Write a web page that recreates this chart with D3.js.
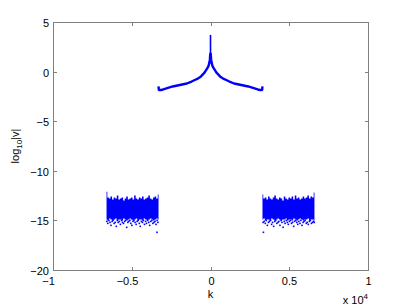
<!DOCTYPE html>
<html>
<head>
<meta charset="utf-8">
<script src="https://cdn.jsdelivr.net/npm/d3@7"></script>
<style>
  body { margin: 0; background: #fff; }
  svg { display: block; }
  text { font-family: "Liberation Sans", Arial, sans-serif; font-size: 11px; fill: #000; }
</style>
</head>
<body>
<div id="chart"></div>
<script>
// central cusp, left half (k, log10|v|); right half is mirrored
var curveK = [-3300, -3280, -3150, -3000, -2700, -2400, -2100, -1800, -1500, -1200, -1000, -800, -650, -500, -380, -280, -200, -130, -80, -40, -15, 0];
var curveV = [-1.5, -1.85, -1.85, -1.8, -1.65, -1.5, -1.4, -1.3, -1.2, -1.0, -0.85, -0.7, -0.55, -0.3, -0.1, 0.15, 0.35, 0.55, 0.85, 1.2, 1.8, 3.7];

// noise bands: one column per 100 in k, top and bottom of the dense part
var bandLeftK = [-6600, -6500, -6400, -6300, -6200, -6100, -6000, -5900, -5800, -5700, -5600, -5500, -5400, -5300, -5200, -5100, -5000, -4900, -4800, -4700, -4600, -4500, -4400, -4300, -4200, -4100, -4000, -3900, -3800, -3700, -3600, -3500, -3400, -3300];
var bandLeftHi = [-12.1, -12.7, -12.8, -12.6, -12.9, -12.7, -12.8, -12.5, -12.9, -12.8, -12.7, -13.0, -12.8, -12.6, -12.9, -12.8, -12.7, -12.9, -12.5, -12.8, -12.9, -12.7, -12.8, -12.6, -12.9, -12.8, -12.7, -12.5, -12.8, -12.9, -12.7, -12.6, -12.8, -12.4];
var bandLeftLo = [-14.9, -15.0, -14.8, -14.9, -15.0, -14.9, -14.8, -15.0, -14.9, -14.9, -15.0, -14.8, -14.9, -15.0, -14.9, -14.8, -14.9, -15.0, -14.9, -14.8, -15.0, -14.9, -14.9, -15.0, -14.8, -14.9, -15.0, -14.9, -14.8, -14.9, -15.0, -14.9, -14.8, -14.9];
var bandRightK = [3300, 3400, 3500, 3600, 3700, 3800, 3900, 4000, 4100, 4200, 4300, 4400, 4500, 4600, 4700, 4800, 4900, 5000, 5100, 5200, 5300, 5400, 5500, 5600, 5700, 5800, 5900, 6000, 6100, 6200, 6300, 6400, 6500, 6600];
var bandRightHi = [-12.4, -12.8, -12.7, -12.9, -12.6, -12.8, -12.9, -12.7, -12.5, -12.8, -12.9, -12.7, -12.8, -13.0, -12.6, -12.8, -12.9, -12.7, -12.8, -12.6, -12.9, -12.5, -12.8, -12.7, -12.9, -12.8, -12.6, -12.8, -12.7, -12.5, -12.8, -12.6, -12.7, -12.2];
var bandRightLo = [-14.9, -14.8, -15.0, -14.9, -14.9, -15.0, -14.8, -14.9, -15.0, -14.9, -14.8, -14.9, -15.0, -14.9, -14.9, -14.8, -15.0, -14.9, -14.9, -15.0, -14.8, -14.9, -15.0, -14.9, -14.8, -14.9, -15.0, -14.9, -14.9, -14.8, -15.0, -14.9, -14.9, -15.0];

// loose points under the bands
var dotsK = [-6580, -6520, -6450, -6380, -6320, -6250, -6190, -6120, -6050, -5980, -5920, -5860, -5790, -5720, -5650, -5590, -5520, -5450, -5390, -5320, -5250, -5190, -5120, -5060, -4990, -4920, -4860, -4790, -4720, -4660, -4590, -4520, -4460, -4390, -4320, -4260, -4190, -4120, -4060, -3990, -3920, -3860, -3790, -3720, -3660, -3590, -3520, -3460, -3390, -3340, -3400,
             3340, 3360, 3410, 3480, 3540, 3610, 3680, 3740, 3810, 3880, 3940, 4010, 4080, 4140, 4210, 4280, 4340, 4410, 4480, 4540, 4610, 4680, 4740, 4810, 4880, 4940, 5010, 5080, 5140, 5210, 5280, 5340, 5410, 5480, 5540, 5610, 5680, 5740, 5810, 5880, 5940, 6010, 6080, 6140, 6210, 6280, 6340, 6410, 6480, 6540, 6590];
var dotsV = [-15.1, -15.3, -15.0, -15.2, -15.5, -15.1, -15.0, -15.3, -15.2, -15.6, -15.0, -15.2, -15.1, -15.4, -15.0, -15.2, -15.3, -15.1, -15.0, -15.7, -15.2, -15.1, -15.0, -15.3, -15.5, -15.1, -15.0, -15.2, -15.4, -15.1, -15.0, -15.3, -15.6, -15.1, -15.2, -15.0, -15.4, -15.1, -15.3, -15.0, -15.2, -15.5, -15.1, -15.0, -15.3, -15.2, -15.1, -15.4, -15.0, -15.2, -16.2,
             -15.2, -16.2, -15.1, -15.3, -15.0, -15.5, -15.2, -15.1, -15.0, -15.4, -15.2, -15.6, -15.1, -15.0, -15.3, -15.2, -15.1, -15.5, -15.0, -15.2, -15.7, -15.1, -15.3, -15.0, -15.2, -15.4, -15.1, -15.0, -15.3, -15.2, -15.6, -15.1, -15.0, -15.2, -15.4, -15.1, -15.3, -15.0, -15.5, -15.2, -15.1, -15.0, -15.3, -15.2, -15.4, -15.1, -15.0, -15.3, -15.2, -15.1, -15.2];

var xTicks = [-10000, -5000, 0, 5000, 10000];
var xTickLabels = ["\u22121", "\u22120.5", "0", "0.5", "1"];
var yTicks = [-20, -15, -10, -5, 0, 5];
var yTickLabels = ["\u221220", "\u221215", "\u221210", "\u22125", "0", "5"];

(function () {
    'use strict';
    var W = 407, H = 305;
    var mLeft = 53, mRight = 368, mTop = 22, mBottom = 270;
    var blue = "#0000ff", axisColor = "#808080";

    var svg = d3.select("#chart").append("svg").attr("width", W).attr("height", H);

    var x = d3.scaleLinear().domain([-10000, 10000]).range([mLeft, mRight]);
    var y = d3.scaleLinear().domain([-20, 5]).range([mBottom, mTop]);

    // dense bands drawn as a stepped area between top and bottom values
    function drawBand(ks, his, los) {
        var rows = ks.map(function (k, i) { return { k: k, hi: his[i], lo: los[i] }; });
        var area = d3.area()
            .curve(d3.curveStep)
            .x(function (d) { return x(d.k); })
            .y0(function (d) { return y(d.lo); })
            .y1(function (d) { return y(d.hi); });
        svg.append("path")
            .attr("d", area(rows))
            .attr("fill", blue);
    }
    drawBand(bandLeftK, bandLeftHi, bandLeftLo);
    drawBand(bandRightK, bandRightHi, bandRightLo);

    svg.append("g").selectAll("rect")
        .data(dotsK)
        .enter()
        .append("rect")
        .attr("x", function (d) { return x(d) - 0.8; })
        .attr("y", function (d, i) { return y(dotsV[i]) - 0.8; })
        .attr("width", 1.6)
        .attr("height", 1.6)
        .attr("fill", blue);

    // cusp curve
    var pts = curveK.map(function (k, i) { return [k, curveV[i]]; });
    var mirrored = pts.slice(0, -1).reverse().map(function (p) { return [-p[0], p[1]]; });
    var all = pts.slice(0, -1).concat(mirrored);
    var line = d3.line()
        .x(function (d) { return x(d[0]); })
        .y(function (d) { return y(d[1]); });
    svg.append("path")
        .attr("d", line(all))
        .attr("fill", "none")
        .attr("stroke", blue)
        .attr("stroke-width", 2.4)
        .attr("stroke-linejoin", "round");
    // thin spike at k = 0
    svg.append("line")
        .attr("x1", x(0)).attr("x2", x(0))
        .attr("y1", y(curveV[curveV.length - 2]))
        .attr("y2", y(curveV[curveV.length - 1]))
        .attr("stroke", blue)
        .attr("stroke-width", 1.6);

    // box
    svg.append("rect")
        .attr("x", mLeft + 0.5).attr("y", mTop + 0.5)
        .attr("width", mRight - mLeft).attr("height", mBottom - mTop)
        .attr("fill", "none")
        .attr("stroke", axisColor)
        .attr("stroke-width", 1);

    var tl = 3.5;
    var gx = svg.append("g");
    xTicks.forEach(function (t, i) {
        var px = Math.round(x(t)) + 0.5;
        gx.append("line").attr("x1", px).attr("x2", px).attr("y1", mBottom + 0.5).attr("y2", mBottom + 0.5 - tl).attr("stroke", axisColor);
        gx.append("line").attr("x1", px).attr("x2", px).attr("y1", mTop + 0.5).attr("y2", mTop + 0.5 + tl).attr("stroke", axisColor);
        gx.append("text")
            .attr("x", px + (t < 0 ? -5 : 0))
            .attr("y", mBottom + 15)
            .attr("text-anchor", "middle")
            .text(xTickLabels[i]);
    });
    var gy = svg.append("g");
    yTicks.forEach(function (t, i) {
        var py = Math.round(y(t)) + 0.5;
        gy.append("line").attr("x1", mLeft + 0.5).attr("x2", mLeft + 0.5 + tl).attr("y1", py).attr("y2", py).attr("stroke", axisColor);
        gy.append("line").attr("x1", mRight + 0.5).attr("x2", mRight + 0.5 - tl).attr("y1", py).attr("y2", py).attr("stroke", axisColor);
        gy.append("text")
            .attr("x", mLeft - 4)
            .attr("y", py + 4)
            .attr("text-anchor", "end")
            .text(yTickLabels[i]);
    });

    // axis labels
    svg.append("text")
        .attr("x", x(0))
        .attr("y", 298)
        .attr("text-anchor", "middle")
        .text("k");

    var ylab = svg.append("text")
        .attr("transform", "translate(19," + ((mTop + mBottom) / 2) + ") rotate(-90)")
        .attr("text-anchor", "middle");
    ylab.append("tspan").text("log");
    ylab.append("tspan").attr("dy", 3).style("font-size", "8px").text("10");
    ylab.append("tspan").attr("dy", -3).text("|v|");

    var mult = svg.append("text")
        .attr("x", mRight)
        .attr("y", 304)
        .attr("text-anchor", "end");
    mult.append("tspan").text("x 10");
    mult.append("tspan").attr("dy", -5).style("font-size", "8px").text("4");
})();
</script>
</body>
</html>
